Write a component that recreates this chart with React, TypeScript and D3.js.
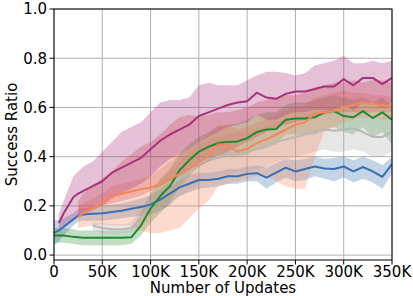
import * as d3 from "d3";

// update steps (x)
const steps = [0, 5000, 10000, 20000, 25000, 30000, 40000, 50000, 60000, 70000, 80000, 90000,
  100000, 110000, 120000, 130000, 140000, 150000, 160000, 170000, 180000, 190000, 200000,
  210000, 220000, 230000, 240000, 250000, 260000, 270000, 280000, 290000, 300000, 310000,
  320000, 330000, 340000, 350000];

const N = null;

// magenta
const magMean = [N, 0.13, 0.17, 0.235, 0.25, 0.26, 0.28, 0.30, 0.335, 0.355, 0.375, 0.395, 0.43, 0.465, 0.49, 0.51, 0.53, 0.565, 0.58, 0.595, 0.61, 0.62, 0.625, 0.66, 0.64, 0.635, 0.655, 0.665, 0.665, 0.675, 0.685, 0.685, 0.715, 0.69, 0.72, 0.72, 0.695, 0.72];
const magHi = [N, 0.17, 0.22, 0.32, 0.34, 0.36, 0.38, 0.42, 0.46, 0.50, 0.52, 0.54, 0.58, 0.62, 0.63, 0.63, 0.64, 0.69, 0.70, 0.69, 0.69, 0.69, 0.71, 0.73, 0.745, 0.745, 0.74, 0.73, 0.74, 0.77, 0.78, 0.79, 0.81, 0.78, 0.78, 0.79, 0.78, 0.79];
const magLo = [N, 0.09, 0.11, 0.15, 0.16, 0.17, 0.19, 0.20, 0.23, 0.25, 0.27, 0.29, 0.32, 0.36, 0.39, 0.41, 0.43, 0.46, 0.48, 0.50, 0.52, 0.53, 0.54, 0.57, 0.55, 0.55, 0.57, 0.58, 0.58, 0.59, 0.59, 0.59, 0.61, 0.59, 0.62, 0.62, 0.60, 0.62];

// blue
const blueMean = [0.09, 0.10, 0.115, 0.145, 0.16, 0.165, 0.168, 0.17, 0.175, 0.18, 0.188, 0.195, 0.205, 0.225, 0.25, 0.275, 0.29, 0.305, 0.305, 0.31, 0.32, 0.32, 0.33, 0.333, 0.315, 0.335, 0.355, 0.34, 0.35, 0.36, 0.352, 0.35, 0.36, 0.34, 0.358, 0.34, 0.318, 0.37];
const blueHi = [0.14, 0.145, 0.15, 0.17, 0.185, 0.19, 0.195, 0.2, 0.205, 0.21, 0.22, 0.23, 0.245, 0.27, 0.295, 0.31, 0.325, 0.335, 0.335, 0.34, 0.35, 0.35, 0.36, 0.365, 0.355, 0.375, 0.39, 0.385, 0.39, 0.40, 0.39, 0.395, 0.40, 0.385, 0.40, 0.385, 0.365, 0.40];
const blueLo = [0.04, 0.055, 0.08, 0.12, 0.135, 0.14, 0.14, 0.14, 0.145, 0.15, 0.155, 0.16, 0.165, 0.18, 0.205, 0.24, 0.255, 0.27, 0.275, 0.28, 0.29, 0.29, 0.30, 0.30, 0.27, 0.295, 0.315, 0.30, 0.305, 0.32, 0.31, 0.30, 0.315, 0.295, 0.31, 0.295, 0.27, 0.33];

// green
const greenMean = [0.08, 0.08, 0.08, 0.074, 0.072, 0.07, 0.07, 0.07, 0.07, 0.07, 0.072, 0.12, 0.19, 0.24, 0.28, 0.345, 0.385, 0.42, 0.44, 0.455, 0.46, 0.462, 0.475, 0.50, 0.51, 0.512, 0.55, 0.555, 0.555, 0.56, 0.58, 0.585, 0.565, 0.56, 0.585, 0.557, 0.58, 0.55];
const greenHi = [0.11, 0.11, 0.11, 0.105, 0.10, 0.10, 0.10, 0.10, 0.10, 0.10, 0.105, 0.17, 0.25, 0.31, 0.35, 0.41, 0.45, 0.48, 0.50, 0.52, 0.53, 0.535, 0.55, 0.57, 0.58, 0.58, 0.61, 0.62, 0.62, 0.63, 0.64, 0.65, 0.64, 0.63, 0.64, 0.62, 0.64, 0.61];
const greenLo = [0.05, 0.05, 0.05, 0.045, 0.042, 0.04, 0.04, 0.04, 0.04, 0.04, 0.045, 0.08, 0.13, 0.17, 0.21, 0.28, 0.32, 0.36, 0.38, 0.39, 0.40, 0.40, 0.41, 0.43, 0.44, 0.45, 0.49, 0.49, 0.49, 0.49, 0.51, 0.52, 0.50, 0.49, 0.52, 0.48, 0.50, 0.45];

// orange
const orangeMean = [N, N, N, N, 0.155, 0.17, 0.19, 0.21, 0.24, 0.248, 0.258, 0.268, 0.274, 0.29, 0.31, 0.33, 0.35, 0.375, 0.405, 0.45, 0.445, 0.42, 0.432, 0.455, 0.47, 0.49, 0.51, 0.53, 0.54, 0.575, 0.58, 0.585, 0.60, 0.61, 0.62, 0.615, 0.61, 0.60];
const orangeHi = [N, N, N, N, 0.20, 0.21, 0.23, 0.25, 0.28, 0.29, 0.30, 0.31, 0.32, 0.35, 0.38, 0.41, 0.43, 0.46, 0.49, 0.53, 0.53, 0.51, 0.52, 0.54, 0.55, 0.57, 0.59, 0.60, 0.61, 0.64, 0.65, 0.66, 0.67, 0.66, 0.66, 0.65, 0.65, 0.64];
const orangeLo = [N, N, N, N, 0.11, 0.115, 0.12, 0.125, 0.12, 0.12, 0.12, 0.10, 0.09, 0.09, 0.10, 0.11, 0.15, 0.19, 0.22, 0.28, 0.29, 0.30, 0.31, 0.32, 0.32, 0.30, 0.28, 0.27, 0.27, 0.40, 0.50, 0.52, 0.54, 0.55, 0.56, 0.56, 0.55, 0.55];

// gray
const grayMean = [N, N, N, N, N, N, 0.12, 0.11, 0.105, 0.105, 0.11, 0.15, 0.20, 0.24, 0.28, 0.31, 0.34, 0.37, 0.39, 0.40, 0.41, 0.415, 0.42, 0.43, 0.44, 0.46, 0.47, 0.48, 0.49, 0.50, 0.51, 0.505, 0.51, 0.515, 0.50, 0.48, 0.48, 0.50];
const grayHi = [N, N, N, N, N, N, 0.135, 0.13, 0.125, 0.125, 0.13, 0.19, 0.25, 0.30, 0.34, 0.38, 0.42, 0.45, 0.47, 0.48, 0.49, 0.50, 0.50, 0.51, 0.52, 0.54, 0.55, 0.56, 0.57, 0.58, 0.59, 0.59, 0.59, 0.60, 0.58, 0.56, 0.56, 0.58];
const grayLo = [N, N, N, N, N, N, 0.10, 0.09, 0.085, 0.085, 0.09, 0.11, 0.15, 0.18, 0.22, 0.24, 0.26, 0.29, 0.31, 0.32, 0.33, 0.335, 0.34, 0.35, 0.36, 0.38, 0.39, 0.40, 0.41, 0.42, 0.43, 0.42, 0.42, 0.43, 0.42, 0.40, 0.40, 0.42];

// red (band only, its line sits under the others)
const redHi = [N, N, N, N, 0.22, 0.25, 0.28, 0.31, 0.34, 0.38, 0.41, 0.44, 0.46, 0.49, 0.53, 0.56, 0.57, 0.56, 0.57, 0.58, 0.58, 0.59, 0.60, 0.62, 0.63, 0.64, 0.65, 0.65, 0.66, 0.68, 0.69, 0.70, 0.70, 0.71, 0.70, 0.71, 0.71, 0.70];
const redLo = [N, N, N, N, 0.15, 0.16, 0.18, 0.20, 0.21, 0.22, 0.23, 0.24, 0.26, 0.28, 0.30, 0.32, 0.34, 0.36, 0.38, 0.40, 0.42, 0.44, 0.46, 0.48, 0.50, 0.52, 0.53, 0.54, 0.55, 0.56, 0.57, 0.58, 0.58, 0.58, 0.58, 0.58, 0.58, 0.58];

const xTicks = [0, 50000, 100000, 150000, 200000, 250000, 300000, 350000];
const yTicks = [0, 0.2, 0.4, 0.6, 0.8, 1.0];

const W = 413, H = 296;
const m = { left: 54, right: 21, top: 9, bottom: 36 };

const bands = [
  { lo: blueLo, hi: blueHi, color: "#3c6fae", op: 0.3 },
  { lo: greenLo, hi: greenHi, color: "#23882f", op: 0.28 },
  { lo: grayLo, hi: grayHi, color: "#b0b0b0", op: 0.3 },
  { lo: orangeLo, hi: orangeHi, color: "#f4885c", op: 0.3 },
  { lo: redLo, hi: redHi, color: "#d0504f", op: 0.3 },
  { lo: magLo, hi: magHi, color: "#a8327a", op: 0.3 },
];

const lines = [
  { v: grayMean, color: "#b8b8b8" },
  { v: blueMean, color: "#3c6fae" },
  { v: greenMean, color: "#23882f" },
  { v: orangeMean, color: "#f4885c" },
  { v: magMean, color: "#a8327a" },
];

export default function App() {
  const x = d3.scaleLinear().domain([0, 350000]).range([m.left, W - m.right]);
  const y = d3.scaleLinear().domain([-0.02, 1.0]).range([H - m.bottom, m.top]);

  const area = (lo: (number | null)[], hi: (number | null)[]) =>
    d3.area<number>()
      .defined((i) => lo[i] != null && hi[i] != null)
      .x((i) => x(steps[i]))
      .y0((i) => y(lo[i] as number))
      .y1((i) => y(hi[i] as number))(d3.range(steps.length));

  const line = (v: (number | null)[]) =>
    d3.line<number>()
      .defined((i) => v[i] != null)
      .x((i) => x(steps[i]))
      .y((i) => y(v[i] as number))(d3.range(steps.length));

  const font = "DejaVu Sans, sans-serif";
  const x0 = m.left, x1 = W - m.right, y0 = H - m.bottom, y1 = m.top;

  return (
    <svg width={W} height={H} style={{ position: "absolute", left: 0, top: 0, display: "block" }}
      fontFamily={font}>
      <rect width={W} height={H} fill="white" />
      {/* grid */}
      {xTicks.map((t) => (
        <line key={"gx" + t} x1={x(t)} x2={x(t)} y1={y0} y2={y1} stroke="#b0b0b0" strokeWidth={1} />
      ))}
      {yTicks.map((t) => (
        <line key={"gy" + t} x1={x0} x2={x1} y1={y(t)} y2={y(t)} stroke="#b0b0b0" strokeWidth={1} />
      ))}
      {bands.map((b, i) => (
        <path key={"b" + i} d={area(b.lo, b.hi) || ""} fill={b.color} fillOpacity={b.op} stroke="none" />
      ))}
      {lines.map((l, i) => (
        <path key={"l" + i} d={line(l.v) || ""} fill="none" stroke={l.color} strokeWidth={2} strokeLinejoin="round" />
      ))}
      {/* spines */}
      <rect x={x0} y={y1} width={x1 - x0} height={y0 - y1} fill="none" stroke="#000" strokeWidth={1} />
      {/* ticks */}
      {xTicks.map((t) => (
        <g key={"tx" + t}>
          <line x1={x(t)} x2={x(t)} y1={y0} y2={y0 + 4.5} stroke="#000" />
          <text x={x(t)} y={277} textAnchor="middle" fontSize={15} fill="#000">
            {t === 0 ? "0" : t / 1000 + "K"}
          </text>
        </g>
      ))}
      {yTicks.map((t) => (
        <g key={"ty" + t}>
          <line x1={x0 - 4.5} x2={x0} y1={y(t)} y2={y(t)} stroke="#000" />
          <text x={47} y={y(t)} dy="0.36em" textAnchor="end" fontSize={15} fill="#000">
            {t.toFixed(1)}
          </text>
        </g>
      ))}
      <text x={(x0 + x1) / 2} y={293} textAnchor="middle" fontSize={15} fill="#000">Number of Updates</text>
      <text transform={`translate(17,${(y0 + y1) / 2}) rotate(-90)`} textAnchor="middle" fontSize={15} fill="#000">
        Success Ratio
      </text>
    </svg>
  );
}
